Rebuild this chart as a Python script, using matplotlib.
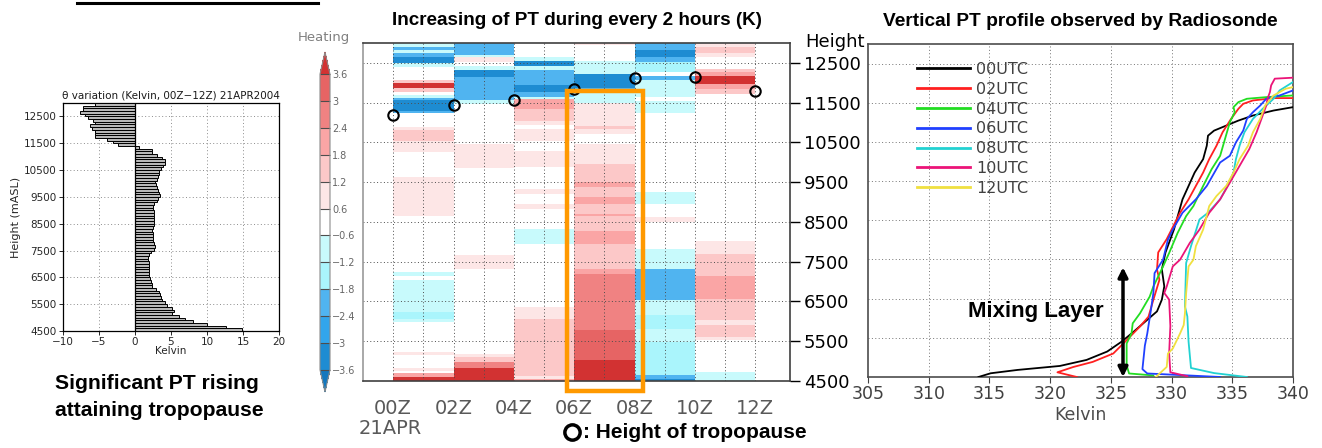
import matplotlib
matplotlib.use("Agg")
import matplotlib.pyplot as plt
import numpy as np
from matplotlib.colors import ListedColormap, BoundaryNorm
from matplotlib.patches import Rectangle
from matplotlib.lines import Line2D

BOLD = ["Liberation Sans Narrow", "Liberation Sans", "DejaVu Sans"]
W, H = 1322, 448

# ---- left panel: theta change 00Z-12Z per 100 m layer (top -> bottom)
theta_levels = np.arange(12950, 4500, -100)
theta_change = [-5.5, -7.2, -7.2, -7.6, -6.9, -6.5, -5.8, -5.5, -6.2, -6.0,
                -5.6, -5.6, -5.5, -3.9, -3.1, -2.3,
                0.6, 2.3, 2.4, 3.1, 3.8, 4.1, 4.2, 3.9, 3.6, 3.3,
                3.3, 3.2, 3.0, 2.8, 2.9, 3.1, 3.2, 3.4, 3.5, 3.2,
                3.0, 2.7, 2.5, 2.5, 2.7, 2.7, 2.7, 2.6, 2.7, 2.6,
                2.5, 2.3, 2.5, 2.5, 2.5, 2.5, 2.6, 2.8, 2.6, 2.2,
                2.0, 1.8, 1.8, 1.9, 1.9, 1.9, 1.9, 2.0, 2.0, 2.1,
                2.2, 2.3, 2.4, 2.9, 3.3, 3.5, 3.6, 3.8, 4.2, 4.5,
                5.1, 5.4, 5.2, 6.1, 7.0, 8.1, 10.0, 12.7, 14.8]
height_ticks = np.arange(4500, 13000, 1000)

# ---- middle panel: 2-hourly PT change, (layer top [m], dK) from 4500 m upward
dpt_00z = [(4600, 4.0), (4700, 2.1), (4750, 0), (4830, 0.9), (5150, 0), (5220, 0.9),
           (5980, 0), (6060, -0.9), (6230, -1.5), (7030, -0.9), (7150, 0), (7240, -0.9),
           (8660, 0), (9640, 0.9), (10250, 0), (10540, 0.9), (10800, 1.5), (10880, 0.9),
           (11250, 0), (11300, -2.1), (11560, -3.3), (11620, -2.1), (11700, -0.9),
           (11780, 0), (11860, 1.5), (11990, 4.0), (12070, 1.5), (12400, 0),
           (12490, -0.9), (12660, -3.3), (12740, -2.1), (12820, -0.9), (12900, -2.1),
           (13000, -0.9)]
dpt_02z = [(4820, 4.0), (4980, 2.7), (5100, 1.5), (5190, 0.9), (7320, 0), (7660, 0.9),
           (9850, 0), (10460, 0.9), (11460, 0), (11560, -0.9), (12140, -2.1),
           (12320, -3.3), (12420, -0.9), (12530, 0), (12640, 0.9), (12700, -0.9),
           (13000, -2.1)]
dpt_04z = [(4550, 2.1), (4620, 0.9), (6070, 1.5), (6360, 0.9), (7950, 0), (8330, -0.9),
           (8830, 0), (8950, 0.9), (9200, 0), (9330, 0.9), (9870, 0), (10290, 0.9),
           (10540, 0), (10840, 0.9), (10950, 0), (11050, 0.9), (11340, 1.5),
           (11590, 2.1), (11650, -0.9), (11780, -2.1), (11950, -3.3), (12330, -2.1),
           (12410, -0.9), (12540, -3.3), (12640, -0.9), (13000, 0)]
dpt_06z = [(5030, 4.0), (5790, 3.3), (7200, 2.7), (7320, 2.1), (7950, 1.5), (8280, 2.1),
           (8640, 1.5), (8700, 2.1), (8950, 1.5), (9120, 2.1), (9370, 1.5), (9500, 2.1),
           (9960, 1.5), (10460, 0.9), (10710, 0), (10840, 0.9), (10920, 1.5),
           (11500, 0.9), (11800, -0.9), (11880, -2.1), (12220, -3.3), (12540, -0.9),
           (12950, 0), (13000, 0.9)]
dpt_08z = [(4560, -3.3), (4650, -2.1), (5480, -1.5), (5810, -0.9), (6150, -1.5),
           (6530, -0.9), (7320, -2.1), (7820, -0.9), (8490, 0), (8620, 0.9), (8950, 0),
           (9250, -0.9), (11250, 0), (11530, -0.9), (11650, 0), (12070, -0.9),
           (12160, -2.1), (12280, 0), (12530, -1.5), (12660, -2.1), (12830, -3.3),
           (13000, -2.1)]
dpt_10z = [(4730, -0.9), (5530, 0), (5610, 0.9), (5910, 1.5), (6030, 0.9), (6570, 1.5),
           (7150, 2.1), (7700, 1.5), (8030, 0.9), (11715, 0), (11840, 1.5), (11970, 2.1),
           (12180, 4.0), (12260, 2.1), (12340, 1.5), (12650, 0), (12760, 0.9),
           (12900, 1.5), (13000, 0.9)]
dpt_columns = [dpt_00z, dpt_02z, dpt_04z, dpt_06z, dpt_08z, dpt_10z]
col_start_hours = [0, 2, 4, 6, 8, 10]

tropo_hours = [0, 2, 4, 6, 8, 10, 12]
tropo_height = [11200, 11450, 11570, 11850, 12130, 12140, 11800]
highlight_hours = (6, 8)
time_labels = ["00Z", "02Z", "04Z", "06Z", "08Z", "10Z", "12Z"]

levels = [-3.6, -3.0, -2.4, -1.8, -1.2, -0.6, 0.6, 1.2, 1.8, 2.4, 3.0, 3.6]
level_labels = ["\u22123.6", "\u22123", "\u22122.4", "\u22121.8", "\u22121.2", "\u22120.6",
                "0.6", "1.2", "1.8", "2.4", "3", "3.6"]
shade_colors = ["#1478be", "#1e8cd2", "#32a5eb", "#50b4f0", "#aaf5fc", "#c8fafc",
                "#ffffff",
                "#fde6e6", "#fcc8c8", "#faa5a5", "#f08282", "#e66464", "#d23232"]

# ---- right panel: radiosonde PT profiles (K, m)
pt_00 = [314.1, 315.1, 317.3, 320.8, 323.0, 324.7, 325.9, 326.9, 328.0, 328.8, 329.2,
         329.4, 329.2, 329.5, 330.2, 330.9, 331.4, 331.9, 332.6, 332.9, 333.0, 333.5,
         334.5, 335.5, 336.7, 338.4, 340.0]
z_00 = [4500, 4595, 4680, 4782, 4936, 5150, 5405, 5662, 5960, 6175, 6475,
        6815, 7245, 7680, 8270, 9035, 9377, 9719, 10061, 10404, 10660, 10789,
        10917, 11045, 11174, 11302, 11388]
pt_02 = [322.2, 320.6, 321.9, 323.5, 325.2, 326.3, 327.4, 328.1, 328.5, 329.0, 328.8,
         328.9, 329.6, 330.0, 330.7, 331.4, 332.0, 332.6, 333.1, 333.7, 334.2, 334.9,
         335.5, 335.9, 336.7, 338.4, 340.0]
z_02 = [4500, 4620, 4755, 4885, 5100, 5440, 5790, 6040, 6470, 6980, 7245,
        7680, 8020, 8264, 8692, 9035, 9377, 9719, 10061, 10404, 10746, 11088,
        11345, 11473, 11559, 11619, 11619]
pt_04 = [328.5, 326.5, 326.3, 326.3, 326.7, 326.8, 327.4, 328.2, 328.5, 329.3, 329.8,
         330.5, 331.2, 331.8, 332.6, 333.3, 334.0, 334.4, 334.8, 335.2, 335.1, 335.5,
         336.2, 337.8, 340.0]
z_04 = [4540, 4590, 4800, 5355, 5612, 5870, 6126, 6553, 6810, 7323, 7666,
        8179, 8607, 8864, 9377, 9805, 10147, 10575, 11003, 11259, 11388, 11516,
        11602, 11644, 11687]
pt_06 = [334.0, 328.0, 327.6, 327.8, 328.0, 328.3, 328.5, 328.6, 329.3, 329.7, 330.1,
         330.9, 332.0, 332.9, 334.0, 334.8, 335.3, 335.9, 336.2, 336.7, 337.3, 337.8,
         338.9, 340.0]
z_06 = [4500, 4590, 4700, 5300, 5612, 6211, 6639, 7152, 7495, 8008, 8264,
        8692, 9035, 9377, 9976, 10147, 10489, 10789, 11088, 11259, 11430, 11602,
        11687, 11815]
pt_08 = [336.2, 333.5, 331.6, 331.4, 331.3, 331.1, 331.2, 331.6, 332.3, 333.0, 334.0,
         334.6, 335.1, 335.3, 335.6, 336.0, 336.7, 337.5, 338.4, 338.9, 340.0]
z_08 = [4500, 4600, 4730, 5400, 6046, 6300, 7410, 7840, 8521, 8692, 9035,
        9377, 9719, 10061, 10404, 10746, 11088, 11345, 11602, 11815, 12029]
pt_10 = [331.3, 329.9, 329.8, 329.9, 329.8, 329.4, 329.6, 330.1, 330.7, 331.5, 332.3,
         333.1, 334.0, 334.8, 335.6, 336.4, 337.0, 337.4, 337.8, 337.9, 338.1, 338.2,
         338.5, 340.0]
z_10 = [4520, 4620, 5100, 5800, 6475, 6645, 6810, 7323, 7495, 7922, 8264,
        8692, 9035, 9462, 9890, 10318, 10746, 11088, 11430, 11602, 11773, 11944,
        12115, 12140]
pt_12 = [328.7, 329.6, 329.7, 330.1, 330.7, 331.0, 331.1, 331.2, 331.4, 331.8, 332.0,
         332.6, 333.1, 333.7, 334.5, 335.1, 335.6, 336.3, 336.7, 337.3, 337.7, 338.4,
         339.4, 340.0]
z_12 = [4500, 4757, 5100, 5227, 5612, 5826, 6126, 6639, 7323, 7495, 7837,
        8264, 8864, 9120, 9377, 9719, 10061, 10404, 10746, 11088, 11430, 11687,
        11858, 11900]
profiles = [("00UTC", pt_00, z_00, "black"), ("02UTC", pt_02, z_02, "#ff2020"),
            ("04UTC", pt_04, z_04, "#22dd22"), ("06UTC", pt_06, z_06, "#2040ff"),
            ("08UTC", pt_08, z_08, "#22d2d2"), ("10UTC", pt_10, z_10, "#eb1478"),
            ("12UTC", pt_12, z_12, "#f0e040")]
mixing_top = 7300
mixing_x = 326

fig = plt.figure(figsize=(W / 100, H / 100), dpi=100)

def fbox(x0, y0, x1, y1):
    return [x0 / W, 1 - y1 / H, (x1 - x0) / W, (y1 - y0) / H]

dot = (0, (1, 2.5))

# ================= left panel =================
ax1 = fig.add_axes(fbox(63, 103, 279, 331))
ax1.barh(theta_levels, theta_change, height=100, color="0.72",
         edgecolor="black", linewidth=0.7, zorder=3)
ax1.set_xlim(-10, 20)
ax1.set_ylim(4500, 13000)
ax1.set_xticks([-10, -5, 0, 5, 10, 15, 20])
ax1.set_yticks(height_ticks)
for x in [-5, 5, 10, 15]:
    ax1.axvline(x, color="0.55", lw=0.7, ls=dot, zorder=1)
for y in height_ticks[1:]:
    ax1.axhline(y, color="0.55", lw=0.7, ls=dot, zorder=1)
ax1.axvline(0, color="black", lw=0.9, zorder=4)
ax1.tick_params(labelsize=7.5, length=3, width=0.7, colors="0.15", pad=1.5)
ax1.set_xlabel("Kelvin", fontsize=7.5, color="0.15", labelpad=-1)
ax1.set_ylabel("Height (mASL)", fontsize=8, color="0.15", labelpad=2)
ax1.set_title("\u03b8 variation (Kelvin, 00Z\u221212Z) 21APR2004", fontsize=7.5,
              color="0.1", pad=3)
for s in ax1.spines.values():
    s.set_linewidth(0.9)

fig.text(55 / W, 1 - 383 / H, "Significant PT rising", family=BOLD,
         weight="bold", fontsize=15.2, va="center", ha="left")
fig.text(55 / W, 1 - 410 / H, "attaining tropopause", family=BOLD,
         weight="bold", fontsize=15.2, va="center", ha="left")
fig.add_artist(Line2D([77 / W, 318 / W], [1 - 3.5 / H, 1 - 3.5 / H],
                      color="black", lw=2.2))

# ================= middle panel =================
ax2 = fig.add_axes(fbox(363, 43, 790, 381))
cmap = ListedColormap(shade_colors[1:-1])
cmap.set_under(shade_colors[0])
cmap.set_over(shade_colors[-1])
norm = BoundaryNorm(levels, cmap.N)
mesh = None
for t0, col in zip(col_start_hours, dpt_columns):
    tops = [c[0] for c in col]
    vals = [c[1] for c in col]
    yedges = [4500] + tops
    mesh = ax2.pcolormesh([t0, t0 + 2], yedges, np.array(vals).reshape(-1, 1),
                          cmap=cmap, norm=norm, shading="flat", zorder=1)
ax2.set_xlim(-1.0, 13.15)
ax2.set_ylim(4500, 13000)
for h in range(0, 13):
    ax2.axvline(h, color="0.3", lw=0.7, ls=dot, zorder=2)
for y in height_ticks[1:]:
    ax2.axhline(y, color="0.3", lw=0.7, ls=dot, zorder=2)
ax2.plot(tropo_hours, tropo_height, "o", mfc="none", mec="black", ms=7.5, mew=1.5,
         clip_on=False, zorder=6)
hl_top = tropo_height[tropo_hours.index(highlight_hours[0])] - 50
ax2.add_patch(Rectangle((highlight_hours[0] - 0.23, 4250),
                        highlight_hours[1] - highlight_hours[0] + 0.52, hl_top - 4250,
                        fill=False, edgecolor="#ff9900", lw=3.2, clip_on=False, zorder=7))
ax2.set_xticks(tropo_hours)
ax2.set_xticklabels(time_labels)
ax2.tick_params(axis="x", length=0, labelsize=14, colors="0.35", pad=13)
ax2.yaxis.tick_right()
ax2.set_yticks(height_ticks)
ax2.tick_params(axis="y", direction="out", length=7, width=1, labelsize=13,
                colors="black", pad=3)
for s in ax2.spines.values():
    s.set_color("0.25")
    s.set_linewidth(1.2)
ax2.spines["left"].set_color("0.6")
ax2.set_title("Increasing of PT during every 2 hours (K)", family=BOLD,
              weight="bold", fontsize=13.6, pad=13)
fig.text(805 / W, 1 - 42 / H, "Height", fontsize=13, va="center", ha="left")
fig.text(390 / W, 1 - 428 / H, "21APR", fontsize=14, color="0.35",
         va="center", ha="center")

# legend for tropopause circles
fig.add_artist(Line2D([572 / W], [1 - 432 / H], marker="o", mfc="none",
                      mec="black", ms=11, mew=2.5))
fig.text(583 / W, 1 - 432 / H, ": Height of tropopause", family=BOLD,
         weight="bold", fontsize=15, va="center", ha="left")

# colour bar
cax = fig.add_axes(fbox(320, 52, 330, 392))
cb = fig.colorbar(mesh, cax=cax, extend="both", extendfrac=0.075, ticks=levels,
                  drawedges=True)
cb.set_ticklabels(level_labels)
cb.outline.set_edgecolor("0.55")
cb.outline.set_linewidth(0.8)
cb.dividers.set_color("0.3")
cb.dividers.set_linewidth(0.8)
cax.tick_params(length=0, labelsize=7, labelcolor="0.4", pad=1.5)
fig.text(324 / W, 1 - 38 / H, "Heating", fontsize=9.5, color="0.5",
         va="center", ha="center")

# ================= right panel =================
ax3 = fig.add_axes(fbox(868, 44, 1293, 377))
for name, pt, z, c in profiles:
    ax3.plot(pt, z, color=c, lw=1.3, label=name, zorder=3)
ax3.set_xlim(305, 340)
ax3.set_ylim(4500, 13000)
ax3.set_xticks(np.arange(305, 341, 5))
ax3.set_yticks(height_ticks)
ax3.set_yticklabels([])
for x in range(310, 340, 5):
    ax3.axvline(x, color="0.45", lw=0.7, ls=dot, zorder=1)
for y in height_ticks[1:]:
    ax3.axhline(y, color="0.45", lw=0.7, ls=dot, zorder=1)
ax3.tick_params(axis="x", direction="out", length=4, labelsize=12.5, colors="0.25", pad=2)
ax3.tick_params(axis="y", length=0)
ax3.set_xlabel("Kelvin", fontsize=12.5, color="0.3", labelpad=2)
for s in ax3.spines.values():
    s.set_color("0.3")
    s.set_linewidth(1.2)
leg = ax3.legend(loc="upper left", bbox_to_anchor=(0.1, 0.965), frameon=False,
                 fontsize=11.5, handlelength=3.3, labelspacing=0.3,
                 handletextpad=0.4, borderaxespad=0)
for line in leg.get_lines():
    line.set_linewidth(2)
for txt in leg.get_texts():
    txt.set_color("0.25")
ax3.set_title("Vertical PT profile observed by Radiosonde", family=BOLD,
              weight="bold", fontsize=13.8, pad=13)
ax3.annotate("", xy=(mixing_x, 4500), xytext=(mixing_x, mixing_top),
             arrowprops=dict(arrowstyle="<|-|>", color="black", lw=2.5,
                             mutation_scale=14, shrinkA=0, shrinkB=0), zorder=5)
ax3.text(318.8, 6167, "Mixing Layer", family=BOLD, weight="bold", fontsize=16,
         ha="center", va="center", zorder=5)

fig.savefig("out.png", dpi=100)
